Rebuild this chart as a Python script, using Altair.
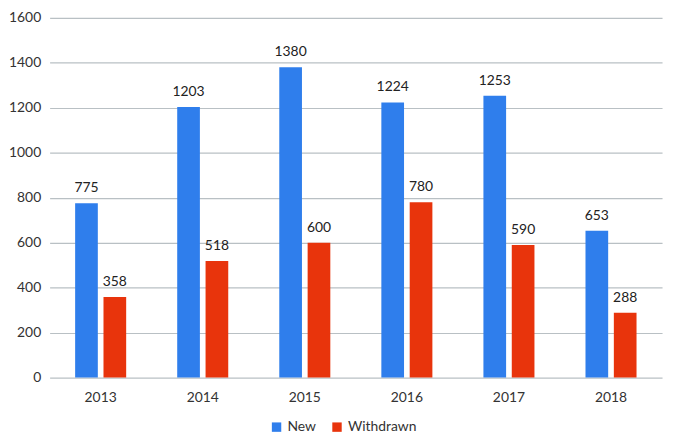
import altair as alt
import pandas as pd

years = ["2013", "2014", "2015", "2016", "2017", "2018"]
new_vals = [775, 1203, 1380, 1224, 1253, 653]
withdrawn_vals = [358, 518, 600, 780, 590, 288]
series = ["New", "Withdrawn"]
colors = ["#2F7EEC", "#E8340C"]

rows = []
for y, n, w in zip(years, new_vals, withdrawn_vals):
    rows.append({"year": y, "series": "New", "value": n})
    rows.append({"year": y, "series": "Withdrawn", "value": w})
df = pd.DataFrame(rows)

FONT = "Lato"

x = alt.X("year:N", title=None, sort=years,
          scale=alt.Scale(paddingInner=0.5, paddingOuter=0.25),
          axis=alt.Axis(labelAngle=0, labelFontSize=14, labelColor="#333333",
                        labelPadding=13, ticks=False, domain=False, labelFont=FONT))
xo = alt.XOffset("series:N", sort=series, scale=alt.Scale(paddingInner=0.2))
y = alt.Y("value:Q", title=None,
          scale=alt.Scale(domain=[0, 1600]),
          axis=alt.Axis(values=list(range(0, 1601, 200)), format="d", labelFontSize=14,
                        labelColor="#333333", labelPadding=9, ticks=False,
                        domain=False, gridColor="#B9C0C4", gridWidth=1.2,
                        labelFont=FONT))
color = alt.Color("series:N", sort=series,
                  scale=alt.Scale(domain=series, range=colors),
                  legend=alt.Legend(title=None, orient="none", legendX=222, legendY=406,
                                    direction="horizontal", symbolType="square",
                                    symbolSize=90, symbolStrokeWidth=0,
                                    labelFontSize=14, labelColor="#333333",
                                    labelFont=FONT, columnPadding=14))

base = alt.Chart(df).encode(x=x, xOffset=xo, y=y)
bars = base.mark_bar().encode(color=color)
labels = base.mark_text(baseline="bottom", dy=-8, fontSize=14, color="#222222", font=FONT).encode(
    text=alt.Text("value:Q"))

chart = (bars + labels).properties(
    width=618, height=363,
    autosize=alt.AutoSizeParams(type="none"),
    padding={"left": 42, "top": 8, "right": 5, "bottom": 55},
).configure_view(stroke=None).configure_axis(gridOpacity=1)

chart.save("out.html", embed_options={"renderer": "svg", "actions": False})
